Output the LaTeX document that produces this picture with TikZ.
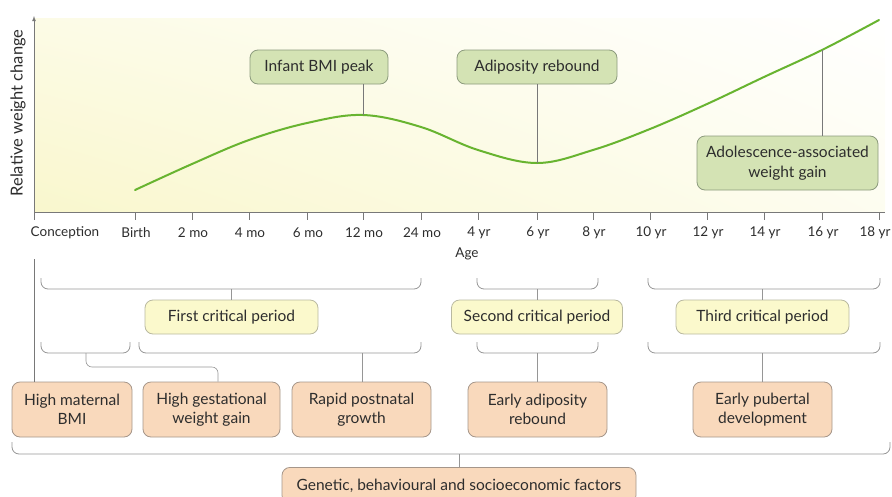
\documentclass[tikz,border=0pt]{standalone}
\usepackage{fontspec}
\setmainfont{Lato}
\usetikzlibrary{calc,shadings}
\definecolor{gfill}{RGB}{212,227,180}
\definecolor{gdraw}{RGB}{140,155,125}
\definecolor{yfill}{RGB}{251,249,204}
\definecolor{ydraw}{RGB}{185,185,160}
\definecolor{ofill}{RGB}{249,217,188}
\definecolor{odraw}{RGB}{165,150,138}
\definecolor{txt}{RGB}{45,45,45}
\definecolor{curvec}{RGB}{104,180,48}
\definecolor{axc}{RGB}{120,120,120}
\definecolor{brc}{RGB}{150,150,150}
\definecolor{bgy}{RGB}{249,247,205}
\tikzset{
  boxbase/.style={rounded corners=8pt, line width=0.8pt, align=center, text=txt, font=\fontsize{15.5}{19.5}\selectfont, inner sep=0pt},
  gbox/.style={boxbase, fill=gfill, draw=gdraw},
  ybox/.style={boxbase, fill=yfill, draw=ydraw},
  obox/.style={boxbase, fill=ofill, draw=odraw},
  stem/.style={draw=axc, line width=0.6pt},
  brk/.style={draw=brc, line width=0.8pt, rounded corners=7pt},
  tick/.style={font=\fontsize{13.5}{15}\selectfont, text=txt},
}
\begin{document}
\begin{tikzpicture}[x=1pt,y=-1pt]
\useasboundingbox (0,0) rectangle (892,496);
% background
\shade[lower left=bgy, lower right=bgy!30!white, upper left=bgy!50!white, upper right=white] (34,18) rectangle (885,212);
% axes
\coordinate (origin) at (34,212);
\draw[axc, line width=0.8pt, -{latex}] (origin) -- (34,16);
\draw[axc, line width=0.8pt] (origin) -- (885,212);
\node[rotate=90, font=\fontsize{16.5}{18}\selectfont, text=txt] (ylab) at (18,113) {Relative weight change};
% ticks
\foreach \x in {34,135,192,249,307,363,421,478,537,593,650,707,764,822,879}{
  \draw[axc, line width=0.6pt] (\x,212) -- (\x,220);
}
\node[tick] (t0) at (65,233) {Conception};
\foreach \x/\l [count=\i] in {135/Birth,192/2 mo,249/4 mo,307/6 mo,363/12 mo,421/24 mo,478/4 yr,537/6 yr,593/8 yr,650/10 yr,707/12 yr,764/14 yr,822/16 yr}{
  \node[tick] (t\i) at (\x+1,233) {\l};
}
\node[tick] (t14) at (875,233) {18 yr};
\node[tick] (age) at (467,254) {Age};
% curve
\coordinate (peak) at (363,115);
\coordinate (rebound) at (537,163);
\coordinate (p16) at (822,50);
\draw[curvec, line width=2pt, line cap=round] plot[smooth, tension=0.6] coordinates {(135,190) (192,164) (249,140) (307,123) (363,115) (421,127) (478,150) (537,163) (593,150) (650,129) (707,104) (764,77) (822,50) (879,20)};
% top boxes
\node[gbox, minimum width=138pt, minimum height=34pt] (ibp) at (319,67) {Infant BMI peak};
\node[gbox, minimum width=160pt, minimum height=34pt] (ar) at (537,67) {Adiposity rebound};
\node[gbox, minimum width=181pt, minimum height=54pt] (aawg) at (787.5,163) {Adolescence-associated\\weight gain};
\draw[stem] (ibp.south -| peak) -- (peak);
\draw[stem] (ar.south -| rebound) -- (rebound);
\draw[stem] (aawg.north -| p16) -- (p16);
% period boxes
\node[ybox, minimum width=173pt, minimum height=34pt] (fcp) at (231.5,317) {First critical period};
\node[ybox, minimum width=171pt, minimum height=34pt] (scp) at (537,317) {Second critical period};
\node[ybox, minimum width=173pt, minimum height=34pt] (tcp) at (762.5,317) {Third critical period};
% factor boxes
\node[obox, minimum width=120pt, minimum height=55pt] (hmb) at (72,409.5) {High maternal\\BMI};
\node[obox, minimum width=137pt, minimum height=55pt] (hgwg) at (211.5,409.5) {High gestational\\weight gain};
\node[obox, minimum width=139pt, minimum height=55pt] (rpg) at (361.5,409.5) {Rapid postnatal\\growth};
\node[obox, minimum width=139pt, minimum height=55pt] (ear) at (537.5,409.5) {Early adiposity\\rebound};
\node[obox, minimum width=139pt, minimum height=55pt] (epd) at (762.5,409.5) {Early pubertal\\development};
\node[obox, minimum width=354pt, minimum height=36pt, anchor=north] (gen) at (459,467) {Genetic, behavioural and socioeconomic factors};
% brackets upper
\draw[brk] (41,278) -- (41,289) -- (421,289) -- (421,278);
\draw[brk] (477,278) -- (477,289) -- (598,289) -- (598,278);
\draw[brk] (648,278) -- (648,289) -- (880,289) -- (880,278);
\coordinate (b1) at (231.5,289);
\coordinate (b2) at (537,289);
\coordinate (b3) at (762.5,289);
\draw[stem, brc] (b1) -- (fcp.north);
\draw[stem, brc] (b2) -- (scp.north);
\draw[stem, brc] (b3) -- (tcp.north);
% brackets lower
\draw[brk] (41,342) -- (41,353) -- (130,353) -- (130,342);
\draw[brk] (139,342) -- (139,353) -- (421,353) -- (421,342);
\draw[brk] (477,342) -- (477,353) -- (598,353) -- (598,342);
\draw[brk] (648,342) -- (648,353) -- (880,353) -- (880,342);
\coordinate (c0) at (86,353);
\coordinate (c1) at (362,353);
\coordinate (c2) at (537,353);
\coordinate (c3) at (762.5,353);
\draw[stem, brc, rounded corners=6pt] (c0) -- (86,367) -- (218,367) -- (hgwg.north -| 218,0);
\draw[stem, brc] (c1) -- (rpg.north -| c1);
\draw[stem, brc] (c2) -- (ear.north -| c2);
\draw[stem, brc] (c3) -- (epd.north);
\coordinate (conc) at (34,259);
\draw[stem] (conc) -- (hmb.north -| conc);
% big bracket
\draw[brk] (12,442) -- (12,454) -- (890,454) -- (890,442);
\coordinate (c4) at (459,454);
\draw[stem, brc] (c4) -- (gen.north);
\end{tikzpicture}
\end{document}
